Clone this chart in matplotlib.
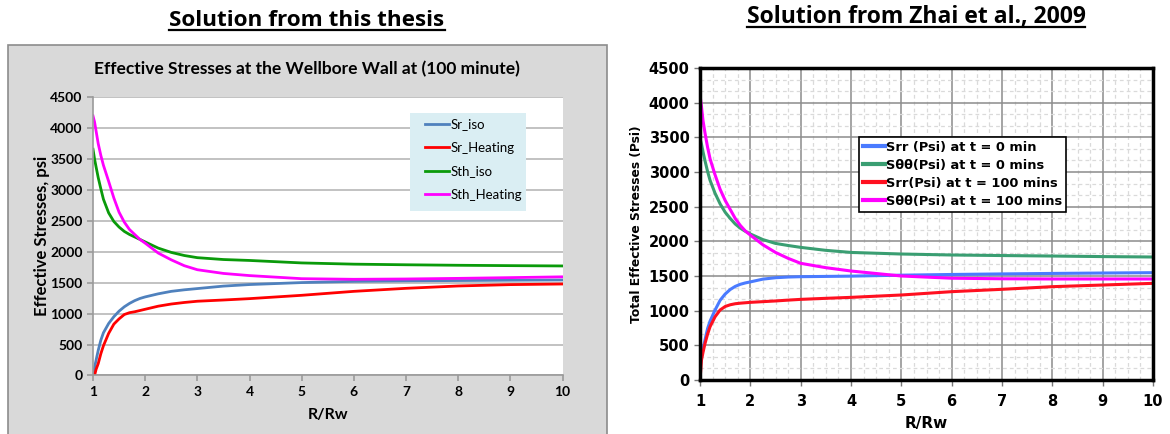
import matplotlib.pyplot as plt
from matplotlib.patches import Rectangle
from matplotlib.lines import Line2D
from matplotlib.ticker import MultipleLocator

# radial position normalised by wellbore radius
r = [1.0, 1.03, 1.06, 1.1, 1.15, 1.2, 1.3, 1.4, 1.5, 1.6, 1.7, 1.8, 1.9, 2.0,
     2.25, 2.5, 2.75, 3.0, 3.5, 4, 5, 6, 7, 8, 9, 10]

# thesis solution (psi)
sr_iso = [0, 130, 250, 405, 570, 690, 840, 950, 1040, 1110, 1165, 1210, 1245, 1270,
          1320, 1360, 1385, 1405, 1445, 1470, 1502, 1522, 1530, 1535, 1540, 1544]
sr_heat = [0, 0, 100, 190, 350, 480, 680, 830, 915, 985, 1015, 1030, 1050, 1070,
           1120, 1155, 1180, 1200, 1220, 1242, 1296, 1360, 1409, 1447, 1469, 1479]
sth_iso = [3660, 3500, 3370, 3200, 3020, 2850, 2630, 2490, 2400, 2330, 2280, 2240, 2200, 2160,
           2060, 1990, 1940, 1905, 1875, 1860, 1820, 1800, 1790, 1782, 1776, 1771]
sth_heat = [4200, 4100, 3950, 3750, 3560, 3400, 3140, 2870, 2640, 2480, 2360, 2280, 2200, 2140,
            1980, 1870, 1775, 1710, 1650, 1615, 1565, 1555, 1560, 1570, 1582, 1595]

# Zhai et al. (2009) solution (psi)
srr_0 = [240, 330, 450, 580, 740, 850, 1010, 1150, 1240, 1305, 1350, 1380, 1400, 1415,
         1455, 1475, 1485, 1490, 1494, 1498, 1512, 1522, 1530, 1537, 1543, 1548]
stt_0 = [3486, 3400, 3290, 3160, 3010, 2880, 2692, 2540, 2420, 2330, 2250, 2190, 2145, 2106,
         2025, 1970, 1940, 1913, 1870, 1840, 1817, 1803, 1795, 1788, 1780, 1774]
srr_100 = [0, 290, 400, 528, 660, 769, 913, 1010, 1060, 1085, 1100, 1108, 1114, 1120,
           1130, 1140, 1152, 1163, 1178, 1192, 1226, 1274, 1308, 1346, 1370, 1394]
stt_100 = [4110, 3940, 3740, 3560, 3360, 3190, 2957, 2750, 2590, 2460, 2330, 2230, 2150, 2090,
           1950, 1840, 1755, 1683, 1620, 1572, 1500, 1468, 1460, 1457, 1457, 1457]

x_ticks = list(range(1, 11))
y_ticks = list(range(0, 5000, 500))

W, H = 1170, 434
fig = plt.figure(figsize=(W / 100, H / 100), dpi=100)


def box(x0, y0, x1, y1):
    return [x0 / W, 1 - y1 / H, (x1 - x0) / W, (y1 - y0) / H]


def underlined(x, y, s, **kw):
    t = fig.text(x / W, 1 - y / H, s, ha='center', va='center', **kw)
    fig.canvas.draw()
    bb = t.get_window_extent().transformed(fig.transFigure.inverted())
    fig.add_artist(Line2D([bb.x0, bb.x1], [bb.y0 + 0.004] * 2, transform=fig.transFigure,
                          color='black', lw=1.6))


# ---- left: thesis chart ----
fig.patches.append(Rectangle((8 / W, -0.01), 599 / W, 1 - 45 / H + 0.01, transform=fig.transFigure,
                             facecolor='#d9d9d9', edgecolor='#8c8c8c', lw=1.2, zorder=-5))
cal = 'Lato'
underlined(307, 21, 'Solution from this thesis', fontsize=16.2, fontweight='bold', family='Open Sans')
fig.text(307 / W, 1 - 69 / H, 'Effective Stresses at the Wellbore Wall at (100 minute)',
         ha='center', va='center', fontsize=12.5, fontweight='bold', family=cal)

ax1_px = (93, 97.3, 562.5, 375.4)
ax1 = fig.add_axes(box(*ax1_px))
ax1.plot(r, sr_iso, color='#4f81bd', lw=2, label='Sr_iso')
ax1.plot(r, sr_heat, color='#ff0000', lw=2, label='Sr_Heating')
ax1.plot(r, sth_iso, color='#0a9a0a', lw=2, label='Sth_iso')
ax1.plot(r, sth_heat, color='#ff00ff', lw=2, label='Sth_Heating')
ax1.set_xlim(1, 10)
ax1.set_ylim(0, 4500)
ax1.set_xticks(x_ticks)
ax1.set_yticks(y_ticks)
ax1.grid(axis='y', color='#b8b8b8', lw=1.2)
ax1.set_axisbelow(True)
for s in ['top', 'right']:
    ax1.spines[s].set_visible(False)
for s in ['left', 'bottom']:
    ax1.spines[s].set_color('#9a9a9a')
    ax1.spines[s].set_linewidth(1.2)
ax1.tick_params(colors='#9a9a9a', length=4, width=1.2)
for lab in ax1.get_xticklabels() + ax1.get_yticklabels():
    lab.set_color('black')
    lab.set_fontweight('bold')
    lab.set_family(cal)
    lab.set_fontsize(10)
ax1.set_xlabel('R/Rw', fontsize=11.5, fontweight='bold', family=cal, labelpad=7)
ax1.set_ylabel('Effective Stresses, psi', fontsize=12, fontweight='bold', family=cal, labelpad=0)

# legend panel with light blue fill
aw, ah = ax1_px[2] - ax1_px[0], ax1_px[3] - ax1_px[1]
ax1.add_patch(Rectangle(((409.5 - 93) / aw, (375.4 - 211) / ah), 116.5 / aw, 98 / ah,
                        transform=ax1.transAxes, facecolor='#daeef3', edgecolor='none', zorder=3))
leg1 = ax1.legend(loc='upper left', bbox_to_anchor=((425 - 93) / aw, (375.4 - 118.5) / ah),
                  frameon=False, prop={'family': cal, 'size': 9.5}, handlelength=1.8,
                  handletextpad=0.15, labelspacing=0.86, borderpad=0, borderaxespad=0)
leg1.set_zorder(4)

# ---- right: Zhai et al. chart ----
underlined(916, 17, 'Solution from Zhai et al., 2009', fontsize=16.5, fontweight='bold', family='Open Sans')

ax2 = fig.add_axes(box(700, 68, 1153, 380))
ax2.plot(r, srr_0, color='#4a7bff', lw=2.2, label='Srr (Psi) at t = 0 min')
ax2.plot(r, stt_0, color='#3a9e72', lw=2.2, label='S\u03b8\u03b8(Psi) at t = 0 mins')
ax2.plot(r, srr_100, color='#ff1020', lw=2.2, label='Srr(Psi) at t = 100 mins')
ax2.plot(r, stt_100, color='#ff00ff', lw=2.2, label='S\u03b8\u03b8(Psi) at t = 100 mins')
ax2.set_xlim(1, 10)
ax2.set_ylim(0, 4500)
ax2.set_xticks(x_ticks)
ax2.set_yticks(y_ticks)
ax2.xaxis.set_minor_locator(MultipleLocator(0.25))
ax2.yaxis.set_minor_locator(MultipleLocator(500 / 3))
ax2.grid(which='minor', color='#dadada', lw=0.9, ls=(0, (3, 2.5)))
ax2.grid(which='major', color='#8c8c8c', lw=1.1)
ax2.set_axisbelow(True)
for s in ax2.spines.values():
    s.set_linewidth(2.5)
    s.set_color('black')
ax2.tick_params(colors='#777777', length=4, width=1)
ax2.tick_params(axis='x', pad=6)
ax2.tick_params(which='minor', length=0)
for lab in ax2.get_xticklabels() + ax2.get_yticklabels():
    lab.set_color('black')
    lab.set_fontweight('bold')
    lab.set_fontsize(10.5)
ax2.set_xlabel('R/Rw', fontsize=11, fontweight='bold', labelpad=5)
ax2.set_ylabel('Total Effective Stresses (Psi)', fontsize=8.8, fontweight='bold', labelpad=4)
leg2 = ax2.legend(loc='upper left', bbox_to_anchor=((858.6 - 700) / 453, (380 - 137) / 312),
                  frameon=True, fancybox=False, facecolor='white', edgecolor='black', framealpha=1,
                  prop={'weight': 'bold', 'size': 9.4}, handlelength=1.7, handletextpad=0.1,
                  labelspacing=0.38, borderpad=0.3, borderaxespad=0)
leg2.get_frame().set_linewidth(1.2)
for h in leg2.get_lines():
    h.set_linewidth(3)

fig.savefig('out.png', dpi=100)
